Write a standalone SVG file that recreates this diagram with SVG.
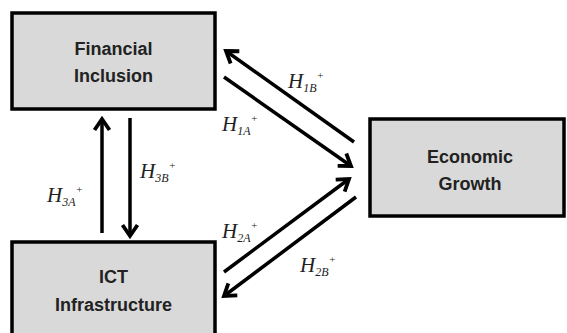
<svg xmlns="http://www.w3.org/2000/svg" width="567" height="333" viewBox="0 0 567 333">
<style>
.box{fill:#d9d9d9;stroke:#000;stroke-width:3.5}
.bt{font-family:"Liberation Sans",Arial,sans-serif;font-weight:bold;font-size:18px;fill:#222;text-anchor:middle}
.ln{stroke:#000;stroke-width:3.5;fill:none;marker-end:url(#ah)}
.lb{font-family:"Liberation Serif","Times New Roman",serif;font-style:italic;font-size:21px;fill:#222}
.sub{font-size:12px}
.sup{font-size:11px}
</style>
<defs>
<marker id="ah" markerUnits="userSpaceOnUse" markerWidth="22" markerHeight="22" refX="13" refY="9" orient="auto" viewBox="0 0 22 18">
<path d="M2,1.5 L13,9 L2,16.5" fill="none" stroke="#000" stroke-width="3.8" stroke-linejoin="miter"/>
</marker>
</defs>
<rect width="567" height="333" fill="#fff"/>
<g id="financial-inclusion">
<rect class="box" x="12" y="13" width="203" height="96"/>
<text class="bt" x="113.5" y="55">Financial</text>
<text class="bt" x="113.5" y="82">Inclusion</text>
</g>
<g id="ict-infrastructure">
<rect class="box" x="12" y="242" width="203" height="100"/>
<text class="bt" x="113.5" y="283">ICT</text>
<text class="bt" x="113.5" y="311">Infrastructure</text>
</g>
<g id="economic-growth">
<rect class="box" x="370" y="119" width="194" height="97"/>
<text class="bt" x="470" y="163">Economic</text>
<text class="bt" x="470" y="190">Growth</text>
</g>
<g id="connectors">
<line class="ln" x1="354" y1="142" x2="226" y2="51"/>
<line class="ln" x1="224" y1="77" x2="351" y2="166"/>
<line class="ln" x1="224" y1="272" x2="349" y2="179"/>
<line class="ln" x1="356" y1="197" x2="224" y2="296"/>
<line class="ln" x1="102" y1="233" x2="102" y2="119"/>
<line class="ln" x1="130" y1="118" x2="130" y2="236"/>
</g>
<g id="labels">
<text class="lb" x="288" y="88">H<tspan class="sub" dy="4">1B</tspan><tspan class="sup" dy="-13">+</tspan></text>
<text class="lb" x="222" y="131">H<tspan class="sub" dy="4">1A</tspan><tspan class="sup" dy="-13">+</tspan></text>
<text class="lb" x="140" y="178">H<tspan class="sub" dy="4">3B</tspan><tspan class="sup" dy="-13">+</tspan></text>
<text class="lb" x="47" y="202">H<tspan class="sub" dy="4">3A</tspan><tspan class="sup" dy="-13">+</tspan></text>
<text class="lb" x="222" y="238">H<tspan class="sub" dy="4">2A</tspan><tspan class="sup" dy="-13">+</tspan></text>
<text class="lb" x="300" y="272">H<tspan class="sub" dy="4">2B</tspan><tspan class="sup" dy="-13">+</tspan></text>
</g>
</svg>
